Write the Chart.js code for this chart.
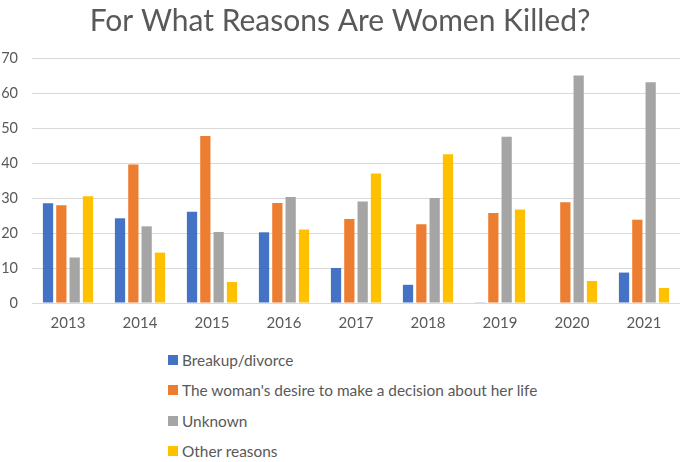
<!DOCTYPE html>
<html>
<head>
<meta charset="utf-8">
<script src="https://cdn.jsdelivr.net/npm/chart.js@4/dist/chart.umd.min.js"></script>
<style>
  body { margin: 0; background: #fff; font-family: Lato, sans-serif; }
  #wrap { position: relative; width: 690px; height: 462px; }
  #chart-box { width: 690px; height: 335px; }
  #legend { list-style: none; margin: 0; padding: 0; position: absolute; left: 168px; top: 345px; }
  #legend li { height: 30.3px; display: flex; align-items: center; color: #595959; font-size: 15.4px; }
  #legend span { width: 10px; height: 10px; margin-right: 4px; display: inline-block; }
</style>
</head>
<body>
<div id="wrap">
  <div id="chart-box"><canvas id="reasons-chart"></canvas></div>
  <ul id="legend"></ul>
</div>
<script>
// values
var years = ['2013', '2014', '2015', '2016', '2017', '2018', '2019', '2020', '2021'];
var breakup = [28.5, 24.2, 26.1, 20.2, 10.0, 5.2, 0.2, 0, 8.7];
var decision = [27.9, 39.6, 47.7, 28.6, 24.0, 22.5, 25.7, 28.8, 23.8];
var unknown = [13.0, 21.9, 20.3, 30.3, 29.0, 30.0, 47.5, 65.0, 63.1];
var other = [30.5, 14.4, 6.0, 21.0, 37.0, 42.5, 26.7, 6.3, 4.3];
var seriesNames = ['Breakup/divorce', "The woman's desire to make a decision about her life", 'Unknown', 'Other reasons'];
var yTicks = [0, 10, 20, 30, 40, 50, 60, 70];

var colors = ['#4472C4', '#ED7D31', '#A5A5A5', '#FFC000'];
var textColor = '#595959';

// html legend, one item per line like the original
var htmlLegend = {
  id: 'htmlLegend',
  afterUpdate: function (chart) {
    var ul = document.getElementById('legend');
    ul.innerHTML = '';
    chart.options.plugins.legend.labels.generateLabels(chart).forEach(function (item) {
      var li = document.createElement('li');
      var box = document.createElement('span');
      box.style.background = item.fillStyle;
      li.appendChild(box);
      li.appendChild(document.createTextNode(item.text));
      ul.appendChild(li);
    });
  }
};

var allSeries = [breakup, decision, unknown, other];

new Chart(document.getElementById('reasons-chart'), {
  type: 'bar',
  data: {
    labels: years,
    datasets: allSeries.map(function (d, i) {
      return {
        label: seriesNames[i],
        data: d,
        backgroundColor: colors[i],
        barPercentage: 0.77,
        categoryPercentage: 0.74
      };
    })
  },
  options: {
    responsive: true,
    maintainAspectRatio: false,
    animation: false,
    layout: { padding: { left: 0, right: 10, top: 0, bottom: 0 } },
    plugins: {
      legend: { display: false },
      tooltip: { enabled: false },
      title: {
        display: true,
        text: 'For What Reasons Are Women Killed?',
        color: textColor,
        font: { family: 'Lato', size: 30, weight: 'normal' },
        padding: { top: 3, bottom: 19 }
      }
    },
    scales: {
      x: {
        grid: { display: false },
        border: { display: false },
        ticks: { color: textColor, font: { family: 'Lato', size: 15 }, padding: 3 }
      },
      y: {
        min: 0,
        max: 70,
        afterBuildTicks: function (scale) {
          scale.ticks = yTicks.map(function (v) { return { value: v }; });
        },
        afterFit: function (scale) { scale.width = 32; },
        grid: { color: '#D9D9D9', lineWidth: 1, drawTicks: false },
        border: { display: false },
        ticks: { color: textColor, font: { family: 'Lato', size: 14.5 }, padding: 14 }
      }
    }
  },
  plugins: [htmlLegend]
});
</script>
</body>
</html>
